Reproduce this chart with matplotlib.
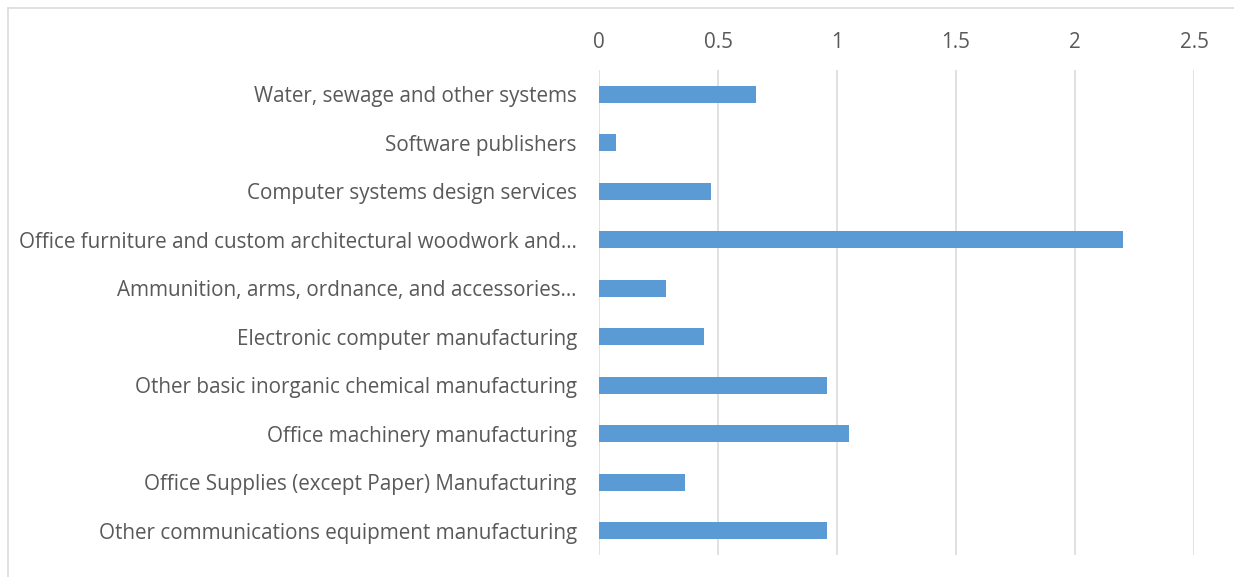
import numpy as np
import matplotlib.pyplot as plt
from matplotlib.lines import Line2D

# industries, listed top to bottom
industries = [
    "Water, sewage and other systems",
    "Software publishers",
    "Computer systems design services",
    "Office furniture and custom architectural woodwork and\u2026",
    "Ammunition, arms, ordnance, and accessories\u2026",
    "Electronic computer manufacturing",
    "Other basic inorganic chemical manufacturing",
    "Office machinery manufacturing",
    "Office Supplies (except Paper) Manufacturing",
    "Other communications equipment manufacturing",
]
values = [0.66, 0.07, 0.47, 2.2, 0.28, 0.44, 0.96, 1.05, 0.36, 0.96]
x_ticks = [0, 0.5, 1, 1.5, 2, 2.5]
x_tick_labels = ["0", "0.5", "1", "1.5", "2", "2.5"]

plt.rcParams['font.family'] = ['Open Sans', 'DejaVu Sans']
text_col = '#595959'
grid_col = '#D9D9D9'

fig = plt.figure(figsize=(12.34, 5.77), dpi=100)
ax = fig.add_axes([599 / 1234, 1 - 555 / 577, 595 / 1234, 485 / 577])

y = np.arange(len(industries))
ax.barh(y, values, height=0.35, color='#5B9BD5', zorder=3)

ax.set_xlim(0, 2.5)
ax.set_ylim(len(industries) - 0.5, -0.5)
ax.set_yticks(y)
ax.set_yticklabels(industries, fontsize=14.9, color=text_col)
ax.set_xticks(x_ticks)
ax.set_xticklabels(x_tick_labels, fontsize=14.9, color=text_col)
ax.xaxis.tick_top()
ax.tick_params(axis='both', length=0)
ax.tick_params(axis='y', pad=16)
ax.tick_params(axis='x', pad=12)
ax.grid(axis='x', color=grid_col, linewidth=1.1, zorder=0)
for s in ax.spines.values():
    s.set_visible(False)

# outer chart frame (top and left edges)
fig.add_artist(Line2D([8 / 1234, 1], [1 - 8 / 577, 1 - 8 / 577], color=grid_col, linewidth=1.1))
fig.add_artist(Line2D([8 / 1234, 8 / 1234], [0, 1 - 8 / 577], color=grid_col, linewidth=1.1))

fig.savefig('out.png', dpi=100)
